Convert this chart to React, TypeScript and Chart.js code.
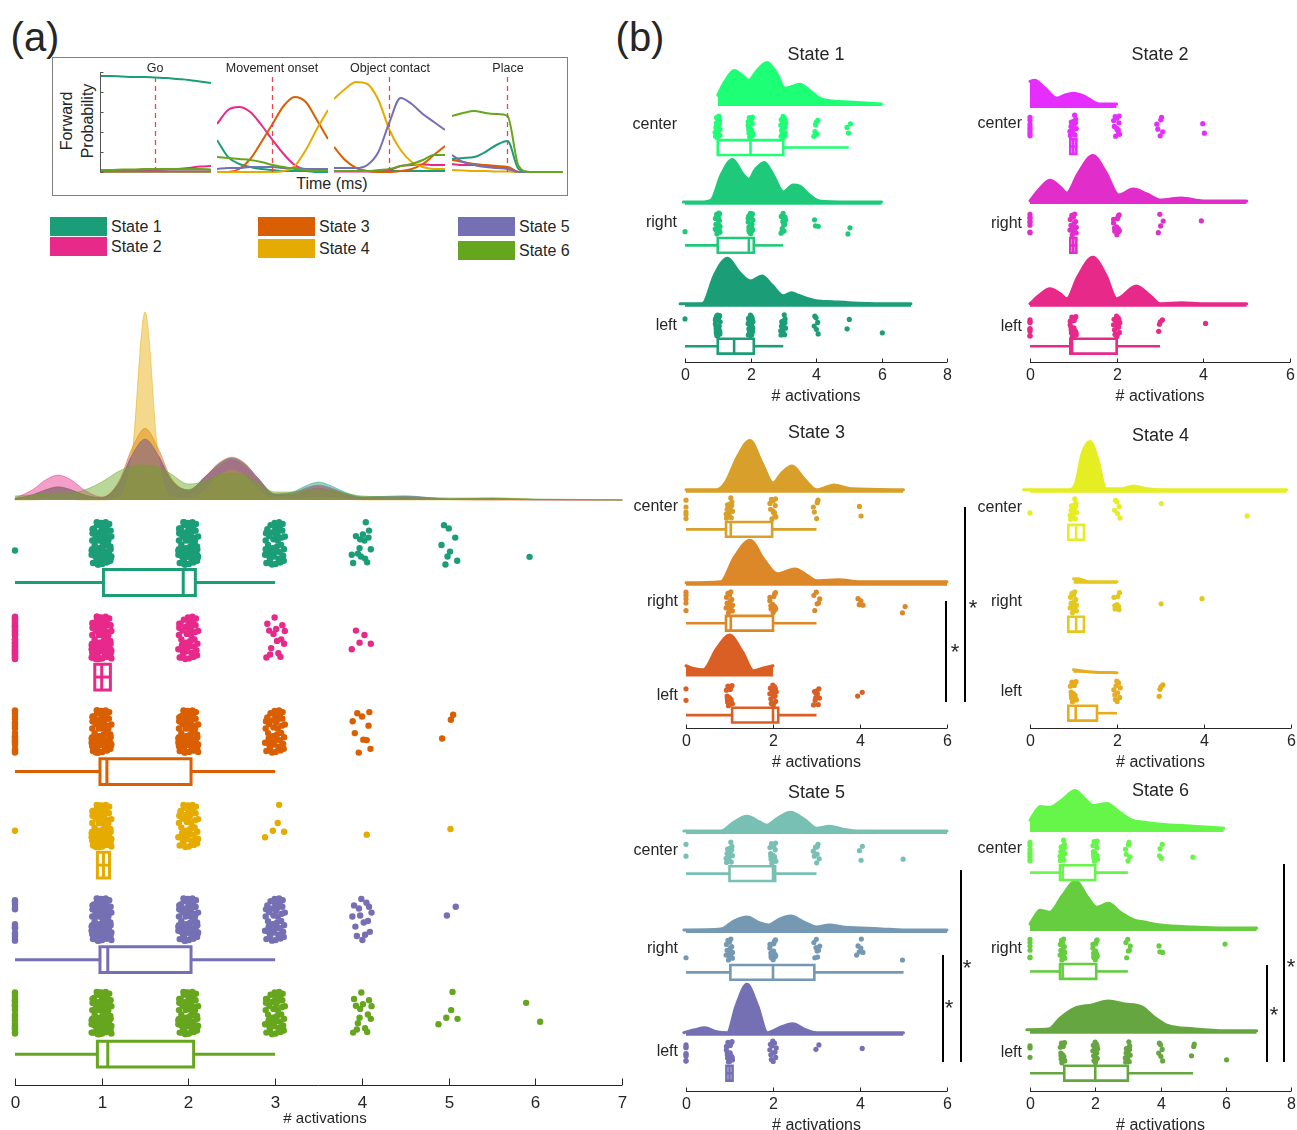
import React, { useEffect, useRef } from 'react';
import { Chart, registerables } from 'chart.js';

Chart.register(...registerables);

const FONT = '"Liberation Sans", Arial, Helvetica, sans-serif';
const INK = '#262626';
Chart.defaults.font.family = FONT;

// ---------------- shared ----------------
const STATE_NAMES = ['State 1', 'State 2', 'State 3', 'State 4', 'State 5', 'State 6'];
const STATE_COLORS = ['#1b9e77', '#e7298a', '#d95f02', '#e6ab02', '#7570b3', '#66a61e'];
const STATE_FILLS = ['rgba(27,158,119,0.45)', 'rgba(231,41,138,0.45)', 'rgba(217,95,2,0.45)', 'rgba(230,171,2,0.45)', 'rgba(117,112,179,0.45)', 'rgba(102,166,30,0.45)'];

// ---------------- inset: forward probability ----------------
const INSET_TIME_MS = [-500, -400, -300, -200, -100, 0, 100, 200, 300, 400, 500];
const INSET_EVENTS = ['Go', 'Movement onset', 'Object contact', 'Place'];
const EVENT_TIME_MS = 0;
const PROB_GO = [
  [0.96, 0.96, 0.955, 0.95, 0.95, 0.945, 0.94, 0.93, 0.92, 0.905, 0.89],
  [0.01, 0.01, 0.01, 0.015, 0.02, 0.02, 0.025, 0.03, 0.04, 0.055, 0.06],
  [0.005, 0.005, 0.005, 0.005, 0.005, 0.005, 0.005, 0.005, 0.005, 0.005, 0.005],
  [0, 0, 0, 0, 0, 0, 0, 0, 0, 0, 0],
  [0.005, 0.005, 0.005, 0.005, 0.005, 0.005, 0.005, 0.005, 0.005, 0.005, 0.005],
  [0.02, 0.02, 0.025, 0.025, 0.03, 0.03, 0.03, 0.03, 0.03, 0.03, 0.025],
];
const PROB_MOVE = [
  [0.32, 0.15, 0.08, 0.05, 0.03, 0.02, 0.01, 0.01, 0.01, 0, 0],
  [0.48, 0.62, 0.65, 0.6, 0.47, 0.32, 0.18, 0.07, 0.02, 0.01, 0.01],
  [0, 0, 0.03, 0.13, 0.3, 0.48, 0.66, 0.75, 0.7, 0.52, 0.33],
  [0, 0, 0, 0, 0, 0, 0.01, 0.06, 0.22, 0.43, 0.62],
  [0.03, 0.04, 0.04, 0.05, 0.05, 0.05, 0.04, 0.04, 0.03, 0.03, 0.03],
  [0.15, 0.14, 0.13, 0.12, 0.1, 0.07, 0.05, 0.03, 0.02, 0.01, 0.01],
];
const PROB_CONTACT = [
  [0.01, 0.01, 0.01, 0.01, 0.01, 0.01, 0.01, 0.01, 0.01, 0.01, 0.01],
  [0.005, 0.005, 0.005, 0.005, 0.01, 0.02, 0.06, 0.07, 0.075, 0.07, 0.07],
  [0.25, 0.12, 0.04, 0.01, 0, 0, 0.01, 0.03, 0.08, 0.17, 0.26],
  [0.73, 0.83, 0.9, 0.88, 0.72, 0.42, 0.22, 0.1, 0.05, 0.03, 0.03],
  [0.04, 0.04, 0.04, 0.07, 0.2, 0.5, 0.74, 0.68, 0.58, 0.5, 0.42],
  [0.01, 0.01, 0.01, 0.01, 0.02, 0.03, 0.06, 0.08, 0.12, 0.17, 0.17],
];
const PROB_PLACE = [
  [0.13, 0.14, 0.15, 0.2, 0.27, 0.31, 0.03, 0, 0, 0, 0],
  [0.08, 0.07, 0.07, 0.06, 0.05, 0.05, 0, 0, 0, 0, 0],
  [0.12, 0.1, 0.08, 0.07, 0.06, 0.05, 0, 0, 0, 0, 0],
  [0.02, 0.015, 0.01, 0.01, 0.005, 0.005, 0, 0, 0, 0, 0],
  [0.17, 0.1, 0.07, 0.05, 0.04, 0.03, 0, 0, 0, 0, 0],
  [0.56, 0.59, 0.61, 0.59, 0.58, 0.56, 0.06, 0, 0, 0, 0],
];
const INSET_SERIES = [PROB_GO, PROB_MOVE, PROB_CONTACT, PROB_PLACE];

// ---------------- panel (a): all trials ----------------
const A_COUNTS = [
  [1, 90, 90, 45, 15, 8, 1],
  [40, 110, 50, 15, 5, 0, 0],
  [20, 100, 90, 40, 10, 3, 0],
  [1, 100, 45, 5, 1, 1, 0],
  [15, 100, 80, 40, 15, 2, 0],
  [25, 100, 70, 45, 15, 5, 2],
];
// [lower whisker, q1, median, q3, upper whisker]
const A_BOX = [
  [0, 1.02, 1.94, 2.08, 3],
  [0.92, 0.92, 1.0, 1.1, 1.1],
  [0, 0.98, 1.06, 2.03, 3],
  [0.95, 0.95, 1.02, 1.09, 1.09],
  [0, 0.98, 1.07, 2.03, 3],
  [0, 0.95, 1.07, 2.06, 3],
];
const A_DENS_X = [0, 0.2, 0.35, 0.5, 0.65, 0.8, 1, 1.2, 1.35, 1.5, 1.65, 1.8, 2, 2.2, 2.35, 2.5, 2.65, 2.8, 3, 3.2, 3.35, 3.5, 3.65, 3.8, 4, 4.5, 5, 5.5, 6, 6.5, 7];
const A_DENS_S1 = [0.01, 0.05, 0.1, 0.13, 0.1, 0.05, 0.02, 0.17, 0.45, 0.61, 0.45, 0.2, 0.1, 0.24, 0.36, 0.42, 0.36, 0.22, 0.06, 0.08, 0.14, 0.18, 0.14, 0.08, 0.03, 0.04, 0.01, 0.015, 0.005, 0.003, 0];
const A_DENS_S2 = [0.02, 0.1, 0.2, 0.25, 0.2, 0.1, 0.03, 0.17, 0.45, 0.61, 0.45, 0.2, 0.08, 0.23, 0.34, 0.4, 0.34, 0.2, 0.05, 0.05, 0.09, 0.12, 0.09, 0.05, 0.02, 0.02, 0.005, 0, 0, 0, 0];
const A_DENS_S3 = [0.01, 0.05, 0.1, 0.13, 0.1, 0.05, 0.02, 0.19, 0.52, 0.72, 0.52, 0.22, 0.1, 0.24, 0.37, 0.43, 0.37, 0.22, 0.05, 0.06, 0.11, 0.14, 0.11, 0.06, 0.02, 0.03, 0.01, 0.02, 0.005, 0, 0];
const A_DENS_S4 = [0, 0, 0.005, 0.01, 0.005, 0, 0, 0.03, 0.45, 1.89, 0.45, 0.03, 0.01, 0.1, 0.24, 0.3, 0.24, 0.1, 0.01, 0.01, 0.02, 0.03, 0.02, 0.01, 0, 0, 0, 0, 0, 0, 0];
const A_DENS_S5 = [0.01, 0.05, 0.1, 0.13, 0.1, 0.05, 0.02, 0.17, 0.45, 0.61, 0.45, 0.2, 0.1, 0.24, 0.36, 0.42, 0.36, 0.22, 0.06, 0.07, 0.12, 0.15, 0.12, 0.07, 0.03, 0.04, 0.01, 0.01, 0, 0, 0];
const A_DENS_S6 = [0.04, 0.05, 0.06, 0.07, 0.07, 0.1, 0.18, 0.29, 0.34, 0.35, 0.33, 0.26, 0.16, 0.19, 0.25, 0.27, 0.25, 0.17, 0.08, 0.08, 0.1, 0.11, 0.1, 0.07, 0.04, 0.03, 0.02, 0.02, 0.01, 0.005, 0];
const A_DENS = [A_DENS_S1, A_DENS_S2, A_DENS_S3, A_DENS_S4, A_DENS_S5, A_DENS_S6];

// ---------------- panel (b): by condition ----------------
const CONDITIONS = ['center', 'right', 'left'];
const B_XMAX = [8, 6, 6, 6, 6, 8];
const B_COLORS = [
  ['#1dff74', '#1fc97a', '#1b9e77'],
  ['#e52efe', '#e12ecb', '#e7298a'],
  ['#d8a02a', '#dc8728', '#d95f25'],
  ['#e4ee23', '#e3c820', '#e6ab1e'],
  ['#78c0b4', '#7598b3', '#7570b3'],
  ['#66f549', '#66cd40', '#66a641'],
];
const B_COUNTS_S1 = [[0, 20, 20, 20, 6, 3, 0], [1, 20, 20, 12, 3, 2, 0], [1, 25, 22, 15, 6, 2, 1]];
const B_COUNTS_S2 = [[8, 15, 12, 6, 2], [8, 15, 12, 4, 1], [8, 20, 15, 4, 1]];
const B_COUNTS_S3 = [[5, 15, 12, 5, 2], [5, 15, 12, 6, 4, 2], [2, 15, 15, 10, 2]];
const B_COUNTS_S4 = [[1, 15, 6, 1, 0, 1], [0, 15, 8, 1, 1], [0, 15, 10, 4]];
const B_COUNTS_S5 = [[2, 15, 15, 8, 3, 1], [1, 15, 15, 8, 6, 1], [8, 20, 12, 2, 1]];
const B_COUNTS_S6 = [[8, 15, 15, 6, 4, 1], [6, 15, 15, 6, 3, 0, 1], [3, 15, 15, 15, 6, 3, 1]];
const B_COUNTS = [B_COUNTS_S1, B_COUNTS_S2, B_COUNTS_S3, B_COUNTS_S4, B_COUNTS_S5, B_COUNTS_S6];

const B_BOX_S1 = [[1, 1, 2, 3, 5], [0, 1, 1.95, 2.1, 3], [0, 1, 1.5, 2.1, 3]];
const B_BOX_S2 = [[0.93, 0.93, 1, 1.07, 1.07], [0.93, 0.93, 1, 1.07, 1.07], [0, 0.93, 0.97, 2, 3]];
const B_BOX_S3 = [[0, 0.92, 1.03, 1.98, 3], [0, 0.92, 1.03, 2, 3], [0, 1.06, 2, 2.12, 3]];
const B_BOX_S4 = [[0.88, 0.88, 1.06, 1.24, 1.24], [0.88, 0.88, 1.06, 1.24, 1.24], [0.88, 0.88, 1.05, 1.54, 2]];
const B_BOX_S5 = [[0, 1, 2, 2.05, 3], [0, 1.02, 2, 2.95, 5], [0.93, 0.93, 1, 1.07, 1.07]];
const B_BOX_S6 = [[0, 0.92, 1, 2, 3], [0, 0.92, 1, 2.03, 3], [0, 1.05, 2, 3, 5]];
const B_BOX = [B_BOX_S1, B_BOX_S2, B_BOX_S3, B_BOX_S4, B_BOX_S5, B_BOX_S6];

const B_DENS_S1 = [
  [[1, 0.11], [1.2, 0.24], [1.5, 0.36], [1.75, 0.31], [1.95, 0.26], [2.2, 0.36], [2.5, 0.44], [2.8, 0.33], [3.05, 0.18], [3.3, 0.2], [3.5, 0.22], [3.8, 0.16], [4.1, 0.08], [4.5, 0.05], [5, 0.04], [5.5, 0.03], [6, 0.02]],
  [[-0.05, 0.03], [0.5, 0.03], [0.8, 0.05], [1.1, 0.3], [1.45, 0.46], [1.75, 0.32], [1.95, 0.26], [2.15, 0.36], [2.42, 0.43], [2.7, 0.3], [3, 0.13], [3.3, 0.2], [3.5, 0.19], [3.8, 0.1], [4.1, 0.04], [5, 0.03], [6, 0.03]],
  [[-0.15, 0.03], [0.5, 0.03], [0.6, 0.05], [0.9, 0.32], [1.3, 0.49], [1.65, 0.35], [2, 0.26], [2.35, 0.31], [2.65, 0.22], [3, 0.11], [3.25, 0.14], [3.5, 0.11], [4, 0.06], [4.5, 0.05], [5, 0.04], [6, 0.03], [6.9, 0.03]],
];
const B_DENS_S2 = [
  [[0, 0.27], [0.1, 0.28], [0.35, 0.2], [0.62, 0.1], [0.8, 0.13], [1, 0.15], [1.25, 0.12], [1.6, 0.04], [2, 0.04]],
  [[0, 0.03], [0.2, 0.14], [0.46, 0.24], [0.7, 0.17], [0.85, 0.11], [1.1, 0.3], [1.45, 0.49], [1.75, 0.32], [2.05, 0.09], [2.38, 0.15], [2.7, 0.1], [3, 0.04], [3.5, 0.06], [4, 0.03], [5, 0.03]],
  [[0, 0.03], [0.2, 0.11], [0.46, 0.18], [0.7, 0.13], [0.85, 0.08], [1.1, 0.3], [1.45, 0.5], [1.75, 0.32], [2, 0.08], [2.45, 0.21], [2.8, 0.1], [3, 0.03], [3.5, 0.04], [4, 0.03], [5, 0.03]],
];
const B_DENS_S3 = [
  [[0, 0.03], [0.7, 0.03], [0.9, 0.1], [1.2, 0.38], [1.47, 0.53], [1.75, 0.3], [2, 0.1], [2.2, 0.2], [2.44, 0.27], [2.7, 0.15], [3, 0.03], [3.4, 0.08], [3.8, 0.04], [5, 0.03]],
  [[0, 0.03], [0.8, 0.04], [1.1, 0.28], [1.47, 0.46], [1.8, 0.26], [2.1, 0.12], [2.5, 0.17], [2.8, 0.1], [3, 0.05], [3.5, 0.06], [4, 0.04], [6, 0.04]],
  [[0, 0.11], [0.2, 0.08], [0.4, 0.07], [0.7, 0.28], [1, 0.42], [1.3, 0.25], [1.55, 0.06], [1.8, 0.09], [2, 0.11]],
];
const B_DENS_S4 = [
  [[-0.15, 0.03], [0.9, 0.03], [1.05, 0.1], [1.2, 0.4], [1.38, 0.52], [1.55, 0.35], [1.75, 0.04], [2.1, 0.04], [2.37, 0.07], [2.7, 0.04], [3, 0.03], [5.9, 0.03]],
  [[1, 0.05], [1.1, 0.05], [1.35, 0.02], [2, 0.02]],
  [[1, 0.03], [1.15, 0.02], [1.5, 0.005], [2, 0]],
];
const B_DENS_S5 = [
  [[-0.05, 0.03], [0.8, 0.03], [1.1, 0.12], [1.4, 0.18], [1.7, 0.12], [1.85, 0.09], [2.1, 0.16], [2.4, 0.22], [2.75, 0.14], [3, 0.06], [3.3, 0.08], [3.6, 0.05], [4, 0.03], [6, 0.03]],
  [[-0.05, 0.03], [0.8, 0.04], [1.1, 0.12], [1.4, 0.16], [1.7, 0.1], [1.9, 0.08], [2.15, 0.14], [2.4, 0.17], [2.75, 0.1], [3, 0.06], [3.3, 0.08], [3.6, 0.06], [4, 0.05], [4.5, 0.04], [5, 0.03], [6, 0.03]],
  [[-0.05, 0.03], [0.2, 0.06], [0.43, 0.08], [0.7, 0.04], [0.95, 0.03], [1.15, 0.3], [1.4, 0.52], [1.65, 0.3], [1.87, 0.03], [2.2, 0.09], [2.45, 0.12], [2.75, 0.06], [3, 0.03], [5, 0.03]],
];
const B_DENS_S6 = [
  [[0, 0.12], [0.15, 0.2], [0.31, 0.26], [0.6, 0.25], [1, 0.33], [1.38, 0.42], [1.7, 0.33], [1.94, 0.27], [2.36, 0.29], [2.75, 0.2], [3.13, 0.12], [3.5, 0.1], [4, 0.08], [5, 0.06], [5.94, 0.04]],
  [[0, 0.07], [0.15, 0.15], [0.3, 0.21], [0.6, 0.19], [1, 0.36], [1.4, 0.51], [1.75, 0.35], [2.05, 0.24], [2.4, 0.28], [2.8, 0.18], [3.2, 0.11], [3.5, 0.09], [4, 0.06], [5, 0.04], [6, 0.03], [6.95, 0.03]],
  [[-0.1, 0.04], [0.6, 0.05], [0.9, 0.15], [1.4, 0.26], [1.9, 0.29], [2.4, 0.33], [2.9, 0.3], [3.44, 0.27], [3.8, 0.17], [4.25, 0.08], [5, 0.05], [6, 0.03], [6.95, 0.03]],
];
const B_DENS = [B_DENS_S1, B_DENS_S2, B_DENS_S3, B_DENS_S4, B_DENS_S5, B_DENS_S6];
// significant pairwise differences (row indices into CONDITIONS)
const B_SIG_PAIRS = [[], [], [[1, 2], [0, 2]], [], [[1, 2], [0, 2]], [[1, 2], [0, 2]]];

// ---------------- layout (pixels) ----------------
const JITTER = [
  [-0.62, 0.31], [0.44, -0.78], [0.05, 0.92], [-0.91, -0.15], [0.77, 0.55], [-0.28, -0.52], [0.18, 0.12], [-0.48, 0.74],
  [0.93, -0.33], [-0.05, -0.95], [0.58, 0.05], [-0.75, -0.66], [0.31, 0.68], [-0.16, -0.2], [0.69, -0.6], [-0.38, 0.45],
  [0.1, -0.42], [-0.84, 0.88], [0.51, 0.85], [-0.57, -0.35], [0.86, 0.25], [-0.22, 0.2], [0.25, -0.15], [-0.97, 0.5],
  [0.38, -0.98], [-0.1, 0.58], [0.64, -0.28], [-0.68, 0.06], [0.02, -0.7], [0.83, 0.78], [-0.44, -0.85], [0.14, 0.36],
  [-0.3, 0.95], [0.47, 0.38], [-0.88, -0.48], [0.72, -0.9], [-0.02, 0.2], [0.57, 0.66], [-0.55, 0.6], [0.22, -0.55],
];
const A_LAYOUT = { left: 0, top: 290, width: 640, height: 840, padL: 15, padR: 18, padB: 45, densBase: 497, ptY: [541, 636, 730, 825, 919, 1013], boxY: [580, 675, 770, 864, 959, 1054] };
const B_LAYOUT = [
  { x0: 685, x1: 947, axisY: 362, titleY: 54, rows: [[103, 124, 145], [203, 222, 244], [306, 325, 346]] },
  { x0: 1030, x1: 1290, axisY: 362, titleY: 54, rows: [[105, 123, 144], [202, 223, 244], [306, 326, 346]] },
  { x0: 686, x1: 947, axisY: 728, titleY: 432, rows: [[490, 506, 527], [584, 601, 622], [676, 695, 715]] },
  { x0: 1030, x1: 1291, axisY: 728, titleY: 435, rows: [[490, 507, 530], [582, 601, 623], [672, 691, 713]] },
  { x0: 686, x1: 947, axisY: 1091, titleY: 792, rows: [[831, 850, 871], [931, 948, 971], [1035, 1051, 1073]] },
  { x0: 1030, x1: 1291, axisY: 1091, titleY: 790, rows: [[829, 848, 870], [929, 948, 970], [1033, 1052, 1073]] },
];
const B_SIG_LAYOUT = [
  [], [],
  [{ x: 946, y1: 601, y2: 702, sx: 955, sy: 652 }, { x: 965, y1: 507, y2: 702, sx: 973, sy: 608 }],
  [],
  [{ x: 943, y1: 955, y2: 1062, sx: 949, sy: 1008 }, { x: 961, y1: 870, y2: 1062, sx: 967, sy: 968 }],
  [{ x: 1267, y1: 965, y2: 1062, sx: 1274, sy: 1015 }, { x: 1284, y1: 864, y2: 1062, sx: 1291, sy: 967 }],
];
const INSET_X = [100, 217, 334, 452];
const INSET_TITLE_X = [155, 272, 390, 508];

// ---------------- helpers ----------------
function pointsFor(counts: number[], jx: number, jy: number, y0: number, seed: number) {
  const out: { x: number; y: number }[] = [];
  const N = JITTER.length;
  counts.forEach((n, k) => {
    for (let i = 0; i < n; i++) {
      const c = Math.floor(i / N);
      const jA = JITTER[(i + k * 13 + seed * 7) % N];
      const jB = JITTER[(i + k * 13 + seed * 7 + c * 17) % N];
      out.push({ x: k + (k === 0 ? 0 : jA[0] * jx), y: y0 + jB[1] * jy });
    }
  });
  return out;
}

function axisPlugin(step: number, font: string, tickLen: number, labelOffset: number) {
  return {
    id: 'bottomAxis',
    afterDraw(chart: any) {
      const { ctx, chartArea, scales } = chart;
      const xs = scales.x;
      const y = Math.round(chartArea.bottom) + 0.5;
      ctx.save();
      ctx.strokeStyle = INK;
      ctx.fillStyle = INK;
      ctx.lineWidth = 1;
      ctx.beginPath();
      ctx.moveTo(xs.getPixelForValue(xs.min), y);
      ctx.lineTo(xs.getPixelForValue(xs.max), y);
      ctx.stroke();
      ctx.font = font;
      ctx.textAlign = 'center';
      ctx.textBaseline = 'middle';
      for (let v = xs.min; v <= xs.max + 1e-9; v += step) {
        const px = Math.round(xs.getPixelForValue(v)) + 0.5;
        ctx.beginPath();
        ctx.moveTo(px, y);
        ctx.lineTo(px, y - tickLen);
        ctx.stroke();
        ctx.fillText(String(v), px, y + labelOffset);
      }
      ctx.restore();
    },
  };
}

const insetYAxis = {
  id: 'insetY',
  afterDraw(chart: any) {
    const { ctx, chartArea, scales } = chart;
    const ys = scales.y;
    const x = Math.round(chartArea.left) + 0.5;
    ctx.save();
    ctx.strokeStyle = '#555';
    ctx.lineWidth = 1;
    ctx.beginPath();
    ctx.moveTo(x, ys.getPixelForValue(0));
    ctx.lineTo(x, ys.getPixelForValue(1));
    ctx.stroke();
    for (let v = 0; v <= 1.0001; v += 0.2) {
      const py = Math.round(ys.getPixelForValue(v)) + 0.5;
      ctx.beginPath();
      ctx.moveTo(x, py);
      ctx.lineTo(x + 3, py);
      ctx.stroke();
    }
    ctx.restore();
  },
};

function baseOptions(xMin: number, xMax: number, yMin: number, yMax: number, reverse: boolean, padding: any) {
  return {
    responsive: false,
    animation: false,
    devicePixelRatio: 1,
    events: [],
    layout: { padding },
    plugins: { legend: { display: false }, tooltip: { enabled: false } },
    scales: {
      x: { type: 'linear', min: xMin, max: xMax, display: false },
      y: { type: 'linear', min: yMin, max: yMax, reverse, display: false },
    },
  };
}

type RowSpec = { color: string; fill: string; line: string; bw: number; dens: number[][]; counts: number[]; box: number[]; baseY: number; ptY: number; boxY: number };

function raincloud(o: { xMax: number; yMax: number; rows: RowSpec[]; jx: number; jy: number; r: number; boxH: number; lw: number; step: number; font: string; tickLen: number; labelOff: number; pad: any }) {
  const ds: any[] = [];
  const DENS_PX = 100;
  o.rows.forEach((row) => {
    ds.push({
      data: row.dens.map(([x, h]) => ({ x, y: row.baseY - h * DENS_PX })),
      borderColor: row.line, backgroundColor: row.fill, borderWidth: row.bw,
      fill: { value: row.baseY }, pointRadius: 0, cubicInterpolationMode: 'monotone',
      clip: false, borderCapStyle: 'round', borderJoinStyle: 'round',
    });
  });
  o.rows.forEach((row, ri) => {
    ds.push({
      data: pointsFor(row.counts, o.jx, o.jy, row.ptY, ri), showLine: false,
      pointRadius: o.r, pointBackgroundColor: row.color, pointBorderColor: row.color, pointBorderWidth: 0, clip: false,
    });
    const [wmin, q1, med, q3, wmax] = row.box;
    const t = row.boxY - o.boxH / 2;
    const b = row.boxY + o.boxH / 2;
    const line = (data: any[]) => ds.push({ data, borderColor: row.color, borderWidth: o.lw, pointRadius: 0, fill: false, clip: false, borderJoinStyle: 'miter', borderCapStyle: 'butt', tension: 0 });
    if (wmin < q1) line([{ x: wmin, y: row.boxY }, { x: q1, y: row.boxY }]);
    if (wmax > q3) line([{ x: q3, y: row.boxY }, { x: wmax, y: row.boxY }]);
    if (q3 - q1 < 0.3) line([{ x: q1, y: row.boxY }, { x: q3, y: row.boxY }]);
    line([{ x: q1, y: t }, { x: q3, y: t }, { x: q3, y: b }, { x: q1, y: b }, { x: q1, y: t }, { x: q3, y: t }]);
    line([{ x: med, y: t }, { x: med, y: b }]);
  });
  ds.forEach((d, i) => { d.order = -i; });
  return {
    type: 'line',
    data: { datasets: ds },
    options: baseOptions(0, o.xMax, 0, o.yMax, true, o.pad),
    plugins: [axisPlugin(o.step, o.font, o.tickLen, o.labelOff)],
  };
}

function insetConfig(series: number[][], withAxis: boolean) {
  const ds: any[] = series.map((vals, s) => ({
    data: INSET_TIME_MS.map((t, i) => ({ x: t, y: vals[i] })),
    borderColor: STATE_COLORS[s], borderWidth: 2, pointRadius: 0, cubicInterpolationMode: 'monotone', clip: false,
  }));
  ds.push({ data: [{ x: EVENT_TIME_MS, y: 0 }, { x: EVENT_TIME_MS, y: 0.97 }], borderColor: '#e8474b', borderWidth: 1.3, borderDash: [5, 4], pointRadius: 0, clip: false });
  ds.forEach((d, i) => { d.order = -i; });
  return {
    type: 'line',
    data: { datasets: ds },
    options: baseOptions(INSET_TIME_MS[0], INSET_TIME_MS[INSET_TIME_MS.length - 1], 0, 1, false, { top: 5, bottom: 1, left: 0, right: 0 }),
    plugins: withAxis ? [insetYAxis] : [],
  };
}

function ChartCanvas({ left, top, width, height, make }: any) {
  const ref = useRef<HTMLCanvasElement>(null);
  useEffect(() => {
    const chart = new Chart(ref.current as HTMLCanvasElement, make());
    return () => chart.destroy();
  }, []);
  return <canvas ref={ref} width={width} height={height} style={{ position: 'absolute', left, top, width, height }} />;
}

function T({ x, y, s, a = 'center', rot, children, w }: any) {
  const tx = a === 'center' ? '-50%' : a === 'right' ? '-100%' : '0';
  return (
    <div style={{ position: 'absolute', left: x, top: y, transform: `translate(${tx},-50%)${rot ? ` rotate(${rot}deg)` : ''}`, font: `${w || 'normal'} ${s}px ${FONT}`, color: INK, whiteSpace: 'nowrap', lineHeight: 1 }}>
      {children}
    </div>
  );
}

function makeA() {
  const L = A_LAYOUT;
  const h = L.height - L.padB;
  const rows: RowSpec[] = STATE_COLORS.map((c, s) => ({
    color: c, fill: STATE_FILLS[s], line: STATE_FILLS[s], bw: 1,
    dens: A_DENS_X.map((x, i) => [x, A_DENS[s][i]]),
    counts: A_COUNTS[s], box: A_BOX[s],
    baseY: L.densBase - L.top, ptY: L.ptY[s] - L.top, boxY: L.boxY[s] - L.top,
  }));
  return raincloud({
    xMax: 7, yMax: h, rows, jx: 0.12, jy: 22, r: 3.2, boxH: 26, lw: 3, step: 1,
    font: `17px ${FONT}`, tickLen: 7, labelOff: 18, pad: { left: L.padL, right: L.padR, top: 0, bottom: L.padB },
  });
}

const B_TOP_EXTRA = 340;
function makeB(s: number) {
  const L = B_LAYOUT[s];
  const top = L.axisY - B_TOP_EXTRA;
  const rows: RowSpec[] = CONDITIONS.map((_, r) => ({
    color: B_COLORS[s][r], fill: B_COLORS[s][r], line: B_COLORS[s][r], bw: 3,
    dens: B_DENS[s][r], counts: B_COUNTS[s][r], box: B_BOX[s][r],
    baseY: L.rows[r][0] - top, ptY: L.rows[r][1] - top, boxY: L.rows[r][2] - top,
  }));
  return () => raincloud({
    xMax: B_XMAX[s], yMax: B_TOP_EXTRA, rows, jx: 0.08, jy: 11, r: 2.6, boxH: 15, lw: 2.6, step: 2,
    font: `16px ${FONT}`, tickLen: 4, labelOff: 13, pad: { left: 30, right: 30, top: 0, bottom: 40 },
  });
}

export default function App() {
  return (
    <div style={{ position: 'absolute', left: 0, top: 0, width: 1297, height: 1130, overflow: 'hidden', background: '#fff', fontFamily: FONT }}>
      {/* panel labels */}
      <T x={35} y={37} s={40}>(a)</T>
      <T x={640} y={37} s={40}>(b)</T>

      {/* inset */}
      <div style={{ position: 'absolute', left: 52, top: 57, width: 514, height: 137, border: '1.5px solid #808080' }} />
      {INSET_SERIES.map((series, i) => (
        <ChartCanvas key={'in' + i} left={INSET_X[i]} top={67} width={111} height={106} make={() => insetConfig(series, i === 0)} />
      ))}
      {INSET_EVENTS.map((e, i) => (
        <T key={'ev' + i} x={INSET_TITLE_X[i]} y={68} s={12.5}>{e}</T>
      ))}
      <T x={67} y={121} s={16} rot={-90}>Forward</T>
      <T x={88} y={121} s={16} rot={-90}>Probability</T>
      <T x={332} y={184} s={16}>Time (ms)</T>

      {/* legend */}
      {STATE_NAMES.map((n, i) => {
        const col = Math.floor(i / 2);
        const lx = [50, 258, 458][col];
        const ly = [[217, 237], [217, 239], [217, 241]][col][i % 2];
        return (
          <React.Fragment key={'lg' + i}>
            <div style={{ position: 'absolute', left: lx, top: ly, width: 57, height: 19, background: STATE_COLORS[i] }} />
            <T x={lx + 61} y={ly + 10} s={16} a="left">{n}</T>
          </React.Fragment>
        );
      })}

      {/* panel (a) raincloud */}
      <ChartCanvas left={A_LAYOUT.left} top={A_LAYOUT.top} width={A_LAYOUT.width} height={A_LAYOUT.height} make={makeA} />
      <T x={325} y={1117} s={15}># activations</T>

      {/* panel (b) */}
      {B_LAYOUT.map((L, s) => (
        <React.Fragment key={'b' + s}>
          <ChartCanvas left={L.x0 - 30} top={L.axisY - B_TOP_EXTRA} width={L.x1 - L.x0 + 60} height={B_TOP_EXTRA + 40} make={makeB(s)} />
          <T x={(L.x0 + L.x1) / 2} y={L.titleY} s={18}>{STATE_NAMES[s]}</T>
          <T x={(L.x0 + L.x1) / 2} y={L.axisY + 34} s={16}># activations</T>
          {CONDITIONS.map((c, r) => (
            <T key={c} x={L.x0 - 8} y={L.rows[r][1]} s={16} a="right">{c}</T>
          ))}
          {B_SIG_PAIRS[s].map((p, k) => {
            const g = B_SIG_LAYOUT[s][k];
            return (
              <React.Fragment key={'sig' + k}>
                <div style={{ position: 'absolute', left: g.x - 1, top: g.y1, width: 2, height: g.y2 - g.y1, background: '#000' }} />
                <T x={g.sx} y={g.sy} s={22}>*</T>
              </React.Fragment>
            );
          })}
        </React.Fragment>
      ))}
    </div>
  );
}
